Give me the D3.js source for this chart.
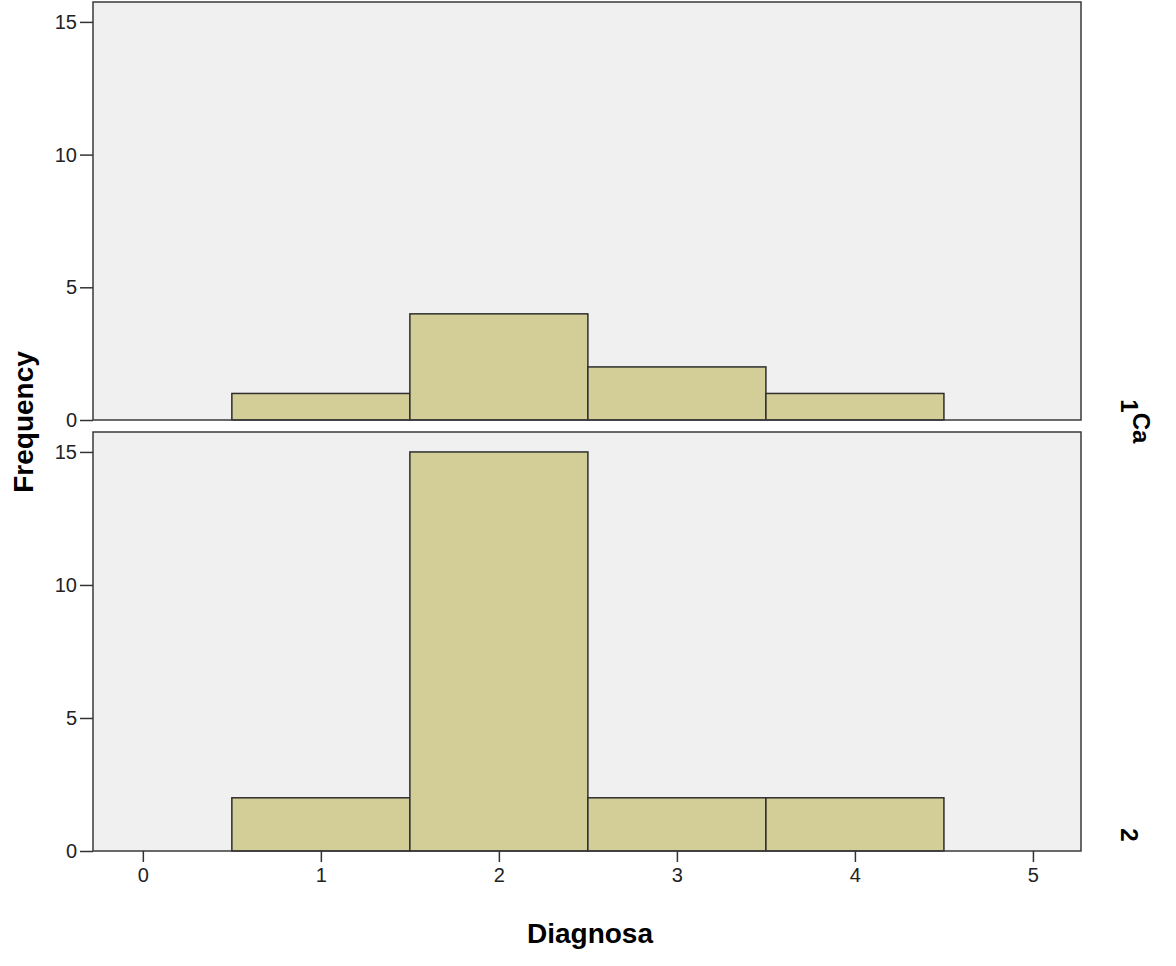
<!DOCTYPE html>
<html>
<head>
<meta charset="utf-8">
<script src="https://cdn.jsdelivr.net/npm/d3@7"></script>
<style>
  body { margin: 0; background: #fff; }
  svg { display: block; font-family: "Liberation Sans", Arial, sans-serif; }
  .tick text { font-size: 20px; fill: #222; font-family: "Liberation Sans", Arial, sans-serif; }
</style>
</head>
<body>
<svg id="chart" width="1176" height="966"></svg>
<script>
// Data
const binStarts = [0.5, 1.5, 2.5, 3.5];
const binWidth  = 1;
const panelLabels = ["1", "2"];
const countsCa1 = [1, 4, 2, 1];
const countsCa2 = [2, 15, 2, 2];
const yTicks = [0, 5, 10, 15];
const xTicks = [0, 1, 2, 3, 4, 5];

const svg = d3.select("#chart");

// Layout
const left = 93, right = 1081;
const panels = [
  { top: 2,   bottom: 420, counts: countsCa1, label: panelLabels[0], ly: 406 },
  { top: 432, bottom: 851, counts: countsCa2, label: panelLabels[1], ly: 835 }
];

const x = d3.scaleLinear().domain([-0.28, 5.27]).range([left, right]);

panels.forEach((p, i) => {
  const y = d3.scaleLinear().domain([0, 15.75]).range([p.bottom, p.top]);

  // panel background
  svg.append("rect")
    .attr("x", left).attr("y", p.top)
    .attr("width", right - left).attr("height", p.bottom - p.top)
    .attr("fill", "#f0f0f0");

  // bars
  svg.append("g").selectAll("rect")
    .data(binStarts.map((s, j) => ({ x0: s, x1: s + binWidth, n: p.counts[j] })))
    .join("rect")
      .attr("x", d => x(d.x0))
      .attr("y", d => y(d.n))
      .attr("width", d => x(d.x1) - x(d.x0))
      .attr("height", d => y(0) - y(d.n))
      .attr("fill", "#d3ce97")
      .attr("stroke", "#2e2e2e")
      .attr("stroke-width", 1.5);

  // panel border
  svg.append("rect")
    .attr("x", left).attr("y", p.top)
    .attr("width", right - left).attr("height", p.bottom - p.top)
    .attr("fill", "none")
    .attr("stroke", "#3a3a3a")
    .attr("stroke-width", 1.5);

  // y axis
  const ya = svg.append("g")
    .attr("transform", `translate(${left},0)`)
    .call(d3.axisLeft(y).tickValues(yTicks).tickSize(13).tickPadding(3).tickFormat(d3.format("d")));
  ya.select(".domain").remove();
  ya.selectAll("line").attr("stroke", "#333").attr("stroke-width", 1.5);

  // facet label on the right
  svg.append("text")
    .attr("transform", `translate(1121,${p.ly}) rotate(90)`)
    .attr("text-anchor", "middle")
    .attr("font-size", 24).attr("font-weight", "bold")
    .text(p.label);

  // x axis on bottom panel
  if (i === panels.length - 1) {
    const xa = svg.append("g")
      .attr("transform", `translate(0,${p.bottom})`)
      .call(d3.axisBottom(x).tickValues(xTicks).tickSize(11).tickPadding(6).tickFormat(d3.format("d")));
    xa.select(".domain").remove();
    xa.selectAll("line").attr("stroke", "#333").attr("stroke-width", 1.5);
  }
});

// facet title
svg.append("text")
  .attr("transform", "translate(1133,428) rotate(90)")
  .attr("text-anchor", "middle")
  .attr("font-size", 24).attr("font-weight", "bold")
  .text("Ca");

// axis titles
svg.append("text")
  .attr("transform", "translate(33,422) rotate(-90)")
  .attr("text-anchor", "middle")
  .attr("font-size", 28).attr("font-weight", "bold")
  .text("Frequency");

svg.append("text")
  .attr("x", 590).attr("y", 943)
  .attr("text-anchor", "middle")
  .attr("font-size", 28).attr("font-weight", "bold")
  .text("Diagnosa");
</script>
</body>
</html>
